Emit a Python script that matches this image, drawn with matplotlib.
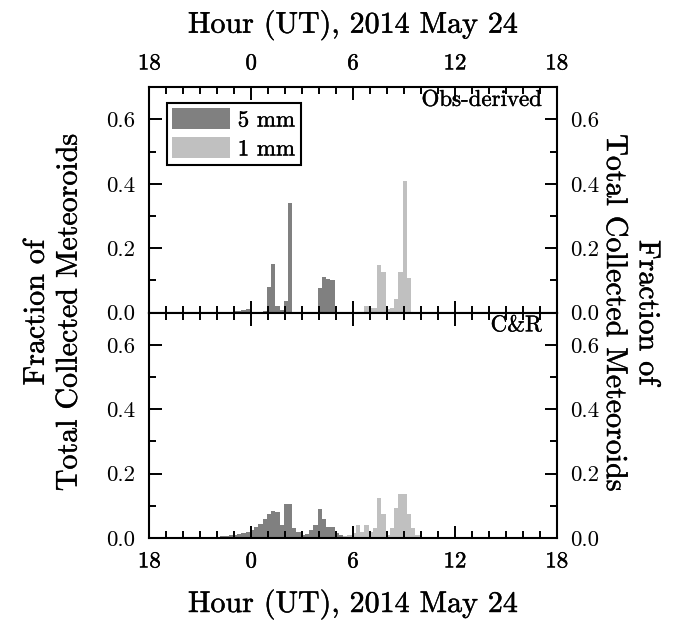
import numpy as np
import matplotlib
matplotlib.use('Agg')
import matplotlib.pyplot as plt
import matplotlib.ticker as mticker
import matplotlib.patheffects as pe
from matplotlib.patches import Patch
from matplotlib.text import Text

# ── Data (fraction of collected meteoroids per 15-min bin) ───
BIN_W = 0.25  # hours

# Obs-derived, 5 mm
obs5_start = -1.08
obs5 = [0.006, 0.006, 0.008, 0.010, 0.0, 0.0, 0.0, 0.005, 0.081, 0.150,
        0.021, 0.008, 0.036, 0.341, 0.0, 0.0, 0.0, 0.0, 0.0, 0.0,
        0.078, 0.110, 0.106, 0.100]
# Obs-derived, 1 mm
obs1_start = 6.67
obs1 = [0.022, 0.014, 0.014, 0.148, 0.125, 0.010, 0.014, 0.042, 0.125, 0.408,
        0.107]

# C&R, 5 mm
cr5_start = -2.33
cr5 = [0.003, 0.003, 0.005, 0.005, 0.008, 0.010, 0.012, 0.015, 0.020, 0.025,
       0.035, 0.045, 0.058, 0.075, 0.083, 0.080, 0.040, 0.106, 0.106, 0.032,
       0.020, 0.010, 0.012, 0.025, 0.040, 0.089, 0.058, 0.035, 0.035, 0.015,
       0.008]
# C&R, 1 mm
cr1_start = 5.42
cr1 = [0.005, 0.010, 0.015, 0.040, 0.020, 0.040, 0.020, 0.030, 0.125, 0.075,
       0.010, 0.030, 0.094, 0.136, 0.136, 0.075, 0.030, 0.010]

x_ticks = [-6, 0, 6, 12, 18]
x_ticklabels = ['18', '0', '6', '12', '18']
y_ticks = [0.0, 0.2, 0.4, 0.6]

DARK = '#808080'
LIGHT = '#c0c0c0'

plt.rcParams['font.family'] = 'serif'
plt.rcParams['font.serif'] = ['cmr10', 'DejaVu Serif']
plt.rcParams['mathtext.fontset'] = 'cm'
plt.rcParams['axes.formatter.use_mathtext'] = True
plt.rcParams['axes.unicode_minus'] = False

TICK_FS = 16.5
LABEL_FS = 21.6

fig = plt.figure(figsize=(6.89, 6.26), dpi=100)
ax1 = fig.add_axes([0.2167, 0.5005, 0.5913, 0.3601])
ax2 = fig.add_axes([0.2167, 0.1406, 0.5913, 0.3599], sharex=ax1)


def draw_hist(ax, start, vals, color):
    edges = start + BIN_W * np.arange(len(vals) + 1)
    ax.stairs(vals, edges, fill=True, color=color, linewidth=0)


draw_hist(ax1, obs5_start, obs5, DARK)
draw_hist(ax1, obs1_start, obs1, LIGHT)
draw_hist(ax2, cr5_start, cr5, DARK)
draw_hist(ax2, cr1_start, cr1, LIGHT)

for ax in (ax1, ax2):
    ax.set_xlim(-6, 18)
    ax.set_ylim(0, 0.7)
    ax.set_xticks(x_ticks)
    ax.set_xticklabels(x_ticklabels)
    ax.xaxis.set_minor_locator(mticker.MultipleLocator(1))
    ax.set_yticks(y_ticks)
    ax.yaxis.set_major_formatter(mticker.FormatStrFormatter('%.1f'))
    ax.yaxis.set_minor_locator(mticker.MultipleLocator(0.1))
    ax.tick_params(which='both', direction='in', top=True, right=True,
                   left=True, bottom=True, labelright=True, width=1.4,
                   labelsize=TICK_FS, pad=10)
    ax.tick_params(which='major', length=9)
    ax.tick_params(which='minor', length=5)
    for sp in ax.spines.values():
        sp.set_linewidth(1.5)

ax1.tick_params(axis='x', which='both', labeltop=True, labelbottom=False)
ax2.tick_params(axis='x', which='both', labeltop=False, labelbottom=True)

# panel tags
ax1.text(0.963, 0.943, 'Obs-derived', transform=ax1.transAxes,
         ha='right', va='center', fontsize=TICK_FS)
ax2.text(0.963, 0.943, 'C&R', transform=ax2.transAxes,
         ha='right', va='center', fontsize=TICK_FS)

# legend
handles = [Patch(facecolor=DARK, edgecolor='none'),
           Patch(facecolor=LIGHT, edgecolor='none')]
leg = ax1.legend(handles, ['5 mm', '1 mm'], loc='upper left',
                 bbox_to_anchor=(0.0427, 0.9317), borderaxespad=0,
                 fontsize=TICK_FS, fancybox=False, framealpha=1,
                 edgecolor='black', handlelength=2.5, handleheight=1.0,
                 handletextpad=0.35, labelspacing=0.3, borderpad=0.25)
leg.get_frame().set_linewidth(1.5)

# axis labels
fig.text(0.5123, 1 - 32.7 / 626, 'Hour (UT), 2014 May 24', ha='center',
         va='baseline', fontsize=LABEL_FS)
fig.text(0.5123, 1 - 612 / 626, 'Hour (UT), 2014 May 24', ha='center',
         va='baseline', fontsize=LABEL_FS)
fig.text(0.0762, 0.5005, 'Fraction of\nTotal Collected Meteoroids',
         rotation=90, ha='center', va='center', fontsize=LABEL_FS,
         linespacing=1.25, multialignment='center')
fig.text(0.916, 0.5005, 'Fraction of\nTotal Collected Meteoroids',
         rotation=270, ha='center', va='center', fontsize=LABEL_FS,
         linespacing=1.25, multialignment='center')

# slightly heavier glyphs, like the original LaTeX raster
for t in fig.findobj(Text):
    if t.get_text():
        t.set_path_effects([pe.withStroke(linewidth=0.3, foreground='black')])

fig.savefig('out.png', dpi=100, facecolor='white')
plt.close(fig)
